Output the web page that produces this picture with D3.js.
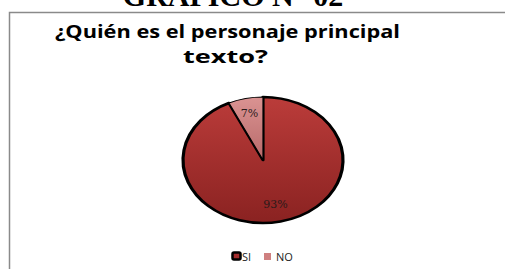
<!DOCTYPE html>
<html>
<head>
<meta charset="utf-8">
<script src="https://cdn.jsdelivr.net/npm/d3@7"></script>
<style>
  html, body { margin: 0; padding: 0; background: #fff; overflow: hidden; }
  svg { display: block; }
</style>
</head>
<body>
<div id="chart"></div>
<script>
// chart data
var categories = ['SI', 'NO'];
var values = [93, 7];
var labels = ['93%', '7%'];

var width = 505;
var height = 269;

var svg = d3.select('#chart')
    .append('svg')
    .attr('width', width)
    .attr('height', height);

var defs = svg.append('defs');

var grad_si = defs.append('linearGradient')
    .attr('id', 'grad_si')
    .attr('x1', 0).attr('y1', 0).attr('x2', 0).attr('y2', 1);
grad_si.append('stop').attr('offset', '0%').attr('stop-color', '#bb3c3a');
grad_si.append('stop').attr('offset', '100%').attr('stop-color', '#8a2221');

var grad_no = defs.append('linearGradient')
    .attr('id', 'grad_no')
    .attr('x1', 0).attr('y1', 0).attr('x2', 0).attr('y2', 1);
grad_no.append('stop').attr('offset', '0%').attr('stop-color', '#da9392');
grad_no.append('stop').attr('offset', '100%').attr('stop-color', '#b86a6a');

var color = d3.scaleOrdinal()
    .domain(categories)
    .range(['url(#grad_si)', 'url(#grad_no)']);

// big heading, cut off by the top of the picture
svg.append('text')
    .attr('x', 233)
    .attr('y', 6)
    .attr('text-anchor', 'middle')
    .attr('font-family', 'Liberation Serif, serif')
    .attr('font-weight', 'bold')
    .attr('font-size', 30)
    .attr('fill', '#000')
    .text('GRAFICO N° 02');

// chart frame
svg.append('path')
    .attr('d', 'M9.5,' + height + 'V12.5H' + width)
    .attr('fill', 'none')
    .attr('stroke', '#8a8a8a')
    .attr('stroke-width', 1.5);

// title
svg.append('text')
    .attr('x', 55)
    .attr('y', 38)
    .attr('textLength', 345)
    .attr('lengthAdjust', 'spacingAndGlyphs')
    .attr('font-family', 'Open Sans, sans-serif')
    .attr('font-weight', 'bold')
    .attr('font-size', 18)
    .text('¿Quién es el personaje principal');

svg.append('text')
    .attr('x', 183)
    .attr('y', 63)
    .attr('textLength', 85)
    .attr('lengthAdjust', 'spacingAndGlyphs')
    .attr('font-family', 'Open Sans, sans-serif')
    .attr('font-weight', 'bold')
    .attr('font-size', 18)
    .text('texto?');

// pie, squashed into an ellipse
var cx = 263, cy = 160, rx = 80, ry = 63;

var pie = d3.pie().sort(null).value(function(d){ return d; });
var arcs = pie(values);
var arc = d3.arc().innerRadius(0).outerRadius(rx);

var pie_g = svg.append('g')
    .attr('transform', 'translate(' + cx + ',' + cy + ') scale(1,' + (ry / rx) + ')');

pie_g.selectAll('path')
    .data(arcs)
    .enter()
    .append('path')
    .attr('d', arc)
    .attr('fill', function(d, i){ return color(categories[i]); })
    .attr('stroke', '#000')
    .attr('stroke-width', function(d, i){ return i === 0 ? 3.2 : 1.2; })
    .attr('stroke-linejoin', 'round');

// labels
var label_r = [0.72, 0.77];

svg.selectAll('text.pct')
    .data(arcs)
    .enter()
    .append('text')
    .attr('class', 'pct')
    .attr('x', function(d, i){
        var c = d3.arc().innerRadius(rx * label_r[i]).outerRadius(rx * label_r[i]).centroid(d);
        return cx + c[0];
    })
    .attr('y', function(d, i){
        var c = d3.arc().innerRadius(rx * label_r[i]).outerRadius(rx * label_r[i]).centroid(d);
        return cy + c[1] * (ry / rx) + 4;
    })
    .attr('text-anchor', 'middle')
    .attr('font-family', 'DejaVu Serif, serif')
    .attr('font-size', 11)
    .attr('fill', '#2a1a1a')
    .text(function(d, i){ return labels[i]; });

// legend
var legend = svg.append('g').attr('transform', 'translate(232,252)');

legend.append('rect')
    .attr('x', 0.5).attr('y', 0.5)
    .attr('width', 8).attr('height', 7)
    .attr('rx', 1.5)
    .attr('fill', '#a32c2c')
    .attr('stroke', '#000')
    .attr('stroke-width', 2.5);

legend.append('text')
    .attr('x', 10).attr('y', 8.5)
    .attr('font-family', 'Open Sans, sans-serif')
    .attr('font-size', 11)
    .attr('fill', '#222')
    .text(categories[0]);

legend.append('rect')
    .attr('x', 32).attr('y', 1)
    .attr('width', 7).attr('height', 7)
    .attr('fill', '#cf8080');

legend.append('text')
    .attr('x', 44).attr('y', 8.5)
    .attr('font-family', 'Open Sans, sans-serif')
    .attr('font-size', 11)
    .attr('fill', '#222')
    .text(categories[1]);
</script>
</body>
</html>
